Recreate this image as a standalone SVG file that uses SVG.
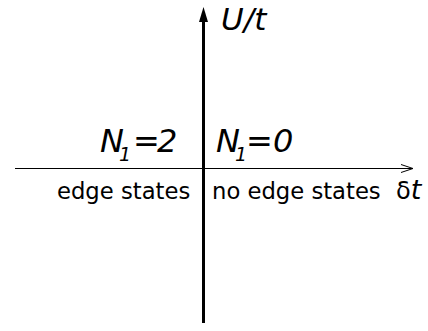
<svg xmlns="http://www.w3.org/2000/svg" width="428" height="331" viewBox="0 0 428 331">
<style>
.lbl{font-family:"DejaVu Sans",sans-serif;fill:#000}
.it{font-style:italic}
.big{font-size:32px}
.sub{font-size:19px}
</style>
<defs>
<marker id="open" markerWidth="14" markerHeight="10" refX="13" refY="5" orient="auto" markerUnits="userSpaceOnUse">
<path d="M1,1 L13,5 L1,9" fill="none" stroke="#000" stroke-width="1"/>
</marker>
</defs>
<rect width="428" height="331" fill="#fff"/>
<g id="connectors">
<line x1="15" y1="168.5" x2="413" y2="168.5" stroke="#000" stroke-width="1" marker-end="url(#open)"/>
<line x1="203.5" y1="323" x2="203.5" y2="18" stroke="#000" stroke-width="3"/>
<polygon points="203.5,7 199,22 208,22" fill="#000"/>
</g>
<g id="axis-u"><text class="lbl it" font-size="31" x="221" y="30">U/t</text></g>
<g id="axis-dt"><text class="lbl" x="396" y="199" font-size="24">δ<tspan class="it" font-size="27">t</tspan></text></g>
<g id="n2"><text class="lbl it big" x="100" y="152">N<tspan class="sub" x="119" y="161">1</tspan><tspan x="133" y="152">=</tspan><tspan x="157" y="152">2</tspan></text></g>
<g id="n0"><text class="lbl it big" x="216" y="152">N<tspan class="sub" x="235" y="161">1</tspan><tspan x="246" y="152">=</tspan><tspan x="273" y="152">0</tspan></text></g>
<g id="left"><text class="lbl" x="57" y="199" font-size="22.7">edge states</text></g>
<g id="right"><text class="lbl" x="212" y="199" font-size="22.7">no edge states</text></g>
</svg>
